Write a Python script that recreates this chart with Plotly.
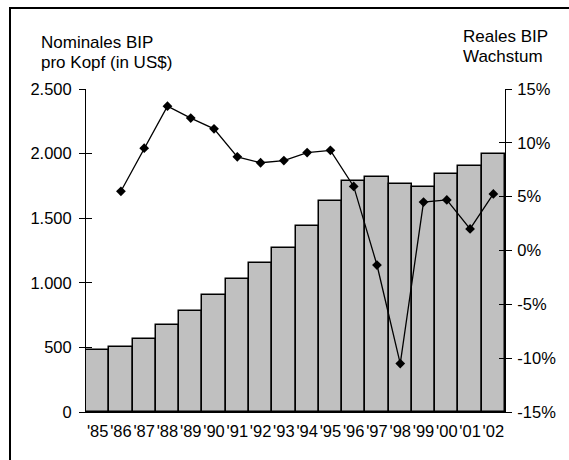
import plotly.graph_objects as go

# Nominal GDP per capita (US$) and real GDP growth (%), 1985-2002
years = list(range(1985, 2003))
year_labels = ["'85", "'86", "'87", "'88", "'89", "'90", "'91", "'92", "'93",
               "'94", "'95", "'96", "'97", "'98", "'99", "'00", "'01", "'02"]
gdp_per_capita = [480, 503, 565, 673, 782, 906, 1029, 1153, 1269,
                  1440, 1635, 1786, 1819, 1762, 1741, 1840, 1902, 1995]
growth_years = list(range(1986, 2003))
real_growth = [5.5, 9.5, 13.4, 12.3, 11.3, 8.7, 8.15, 8.35,
               9.1, 9.3, 5.95, -1.35, -10.5, 4.5, 4.7, 2.0, 5.25]

left_ticks = [0, 500, 1000, 1500, 2000, 2500]
right_ticks = [-15, -10, -5, 0, 5, 10, 15]
right_tick_text = ["-15%", "-10%", "-5%", "0%", "5%", "10%", "15%"]

W, H = 569, 460
L, R, T, B = 86, 64, 89, 48
pw, ph = W - L - R, H - T - B


def px_x(x):
    return (x - L) / pw


def px_y(y):
    return (H - B - y) / ph


FONT = "Liberation Sans, Arial, sans-serif"

fig = go.Figure()
fig.add_trace(go.Bar(
    x=years, y=gdp_per_capita, yaxis="y",
    marker=dict(color="#C0C0C0", line=dict(color="black", width=1.5)),
    showlegend=False,
))
fig.add_trace(go.Scatter(
    x=growth_years, y=real_growth, yaxis="y2", mode="lines+markers",
    line=dict(color="black", width=1.3),
    marker=dict(symbol="diamond", size=7.5, color="black"),
    showlegend=False,
))

fig.update_layout(
    width=W, height=H,
    margin=dict(l=L, r=R, t=T, b=B, pad=0, autoexpand=False),
    paper_bgcolor="white", plot_bgcolor="white",
    separators=",.",
    bargap=0,
    font=dict(family=FONT, size=16, color="black"),
    xaxis=dict(
        range=[1984.5, 2002.5], tickmode="array", tickvals=years,
        ticktext=year_labels, showgrid=False, zeroline=False,
        showline=True, linecolor="black", linewidth=1, ticks="",
        tickangle=0, automargin=False,
        ticklabelstandoff=4, tickfont=dict(size=16.5),
    ),
    yaxis=dict(
        range=[0, 2500], tickmode="array", tickvals=left_ticks,
        tickformat=",", showgrid=False, zeroline=False,
        showline=True, linecolor="black", linewidth=1,
        ticks="outside", ticklen=6, tickcolor="black", tickwidth=1,
        ticklabelstandoff=4, tickfont=dict(size=16.5), automargin=False,
    ),
    yaxis2=dict(
        range=[-15, 15], overlaying="y", side="right", anchor="x",
        tickmode="array", tickvals=right_ticks, ticktext=right_tick_text,
        showgrid=False, zeroline=False,
        showline=True, linecolor="black", linewidth=1,
        ticks="outside", ticklen=6, tickcolor="black", tickwidth=1,
        ticklabelstandoff=2, tickfont=dict(size=16.5), automargin=False,
    ),
    # inner halves of the crossing tick marks
    yaxis3=dict(
        range=[0, 2500], overlaying="y", side="left", anchor="x",
        tickmode="array", tickvals=left_ticks, showticklabels=False,
        showgrid=False, zeroline=False, showline=False,
        ticks="inside", ticklen=6, tickcolor="black", tickwidth=1,
    ),
    yaxis4=dict(
        range=[-15, 15], overlaying="y", side="right", anchor="x",
        tickmode="array", tickvals=right_ticks, showticklabels=False,
        showgrid=False, zeroline=False, showline=False,
        ticks="inside", ticklen=6, tickcolor="black", tickwidth=1,
    ),
)

# dummy traces so the tick-only axes are drawn
fig.add_trace(go.Scatter(x=[None], y=[None], yaxis="y3", showlegend=False))
fig.add_trace(go.Scatter(x=[None], y=[None], yaxis="y4", showlegend=False))

title_font = dict(family=FONT, size=17, color="black")
for text, xpx, ypx in [("Nominales BIP", 39, 42), ("pro Kopf (in US$)", 39, 63),
                       ("Reales BIP", 461, 37), ("Wachstum", 461, 57)]:
    fig.add_annotation(
        text=text, xref="paper", yref="paper", x=px_x(xpx), y=px_y(ypx),
        xanchor="left", yanchor="middle", showarrow=False, font=title_font,
    )

# outer frame
fig.add_shape(
    type="rect", xref="paper", yref="paper",
    x0=px_x(10), x1=px_x(W + 10), y0=px_y(H + 10), y1=px_y(8),
    line=dict(color="black", width=2), fillcolor="rgba(0,0,0,0)", layer="below",
)

fig.write_html("out.html")
